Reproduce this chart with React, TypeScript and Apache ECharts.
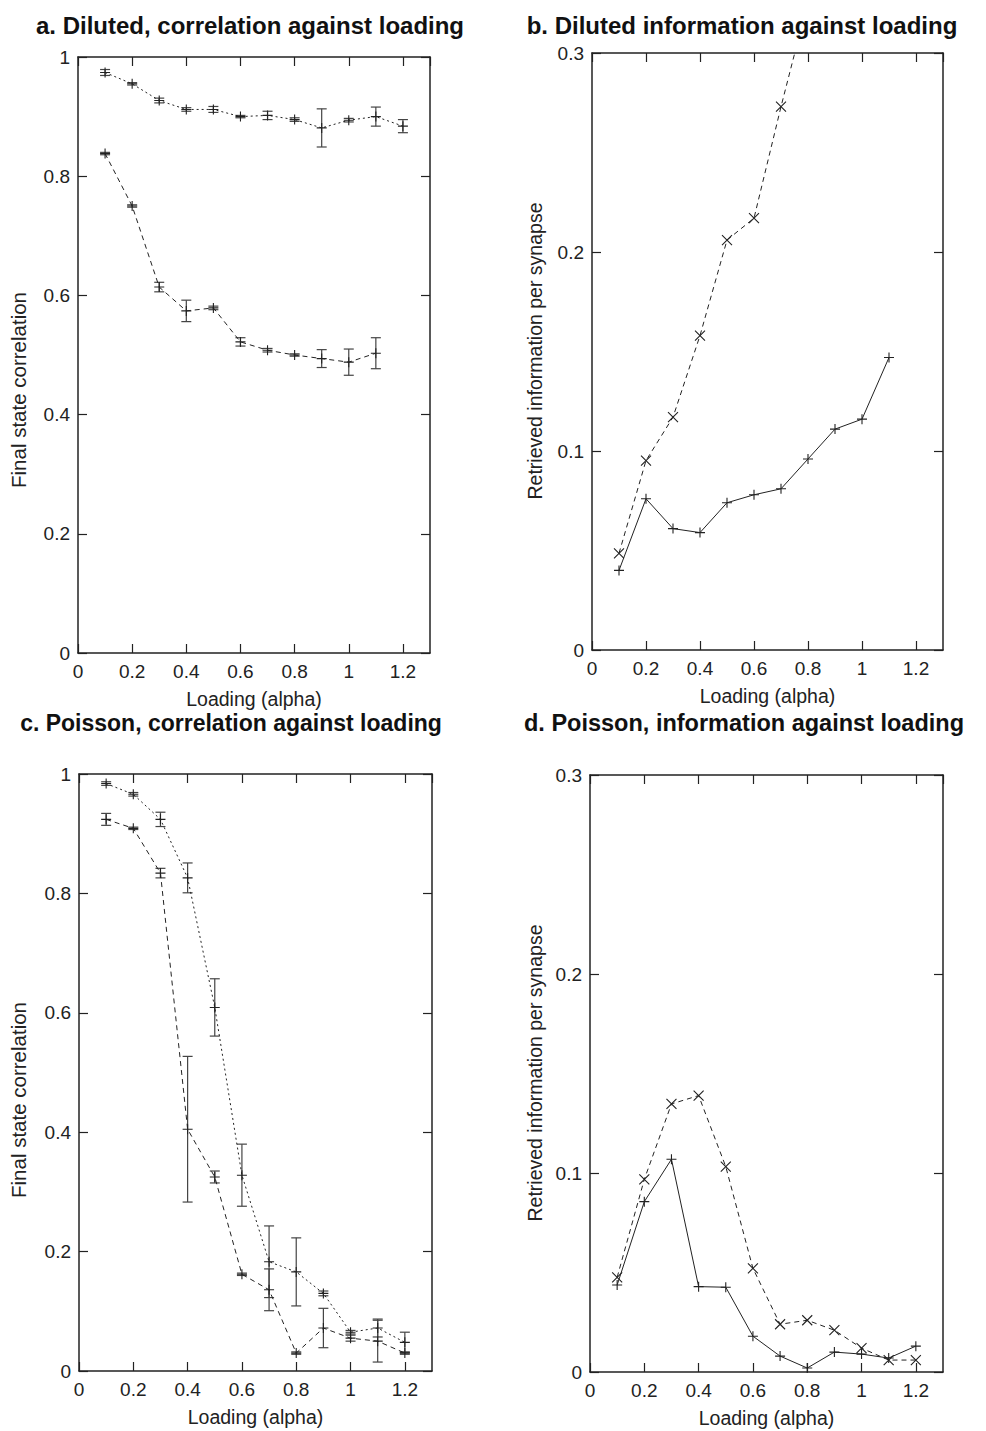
import React, { useEffect, useRef } from "react";
import * as echarts from "echarts";

const alphas = [0.1, 0.2, 0.3, 0.4, 0.5, 0.6, 0.7, 0.8, 0.9, 1.0, 1.1, 1.2];

// Panel a: Diluted, correlation
const aUpper = [0.974, 0.955, 0.927, 0.912, 0.912, 0.9, 0.902, 0.895, 0.881, 0.894, 0.9, 0.884];
const aUpperErr = [0.005, 0.002, 0.004, 0.003, 0.005, 0.002, 0.007, 0.003, 0.032, 0.003, 0.016, 0.011];
const aLower = [0.838, 0.75, 0.614, 0.574, 0.579, 0.522, 0.508, 0.5, 0.494, 0.488, 0.503];
const aLowerErr = [0.002, 0.002, 0.008, 0.018, 0.003, 0.007, 0.003, 0.002, 0.015, 0.022, 0.026];

// Panel b: Diluted, information
const bCross = [0.0486, 0.0952, 0.117, 0.158, 0.206, 0.217, 0.273, 0.326];
const bPlus = [0.04, 0.076, 0.061, 0.059, 0.074, 0.078, 0.081, 0.096, 0.111, 0.116, 0.147];

// Panel c: Poisson, correlation
const cUpper = [0.984, 0.966, 0.924, 0.826, 0.609, 0.328, 0.183, 0.166, 0.13, 0.065, 0.072, 0.048];
const cUpperErr = [0.003, 0.003, 0.012, 0.025, 0.048, 0.052, 0.06, 0.057, 0.004, 0.003, 0.015, 0.017];
const cLower = [0.924, 0.909, 0.834, 0.405, 0.325, 0.162, 0.136, 0.03, 0.072, 0.055, 0.05, 0.03];
const cLowerErr = [0.01, 0.002, 0.008, 0.122, 0.01, 0.002, 0.035, 0.002, 0.033, 0.005, 0.035, 0.002];

// Panel d: Poisson, information
const dCross = [0.0476, 0.0968, 0.1347, 0.1389, 0.1032, 0.0521, 0.024, 0.026, 0.021, 0.012, 0.006, 0.006];
const dPlus = [0.0437, 0.0856, 0.1069, 0.0429, 0.0426, 0.018, 0.008, 0.002, 0.01, 0.009, 0.007, 0.013];

const titles = [
  "a. Diluted, correlation against loading",
  "b. Diluted information against loading",
  "c. Poisson, correlation against loading",
  "d. Poisson, information against loading",
];
const xName = "Loading (alpha)";
const yNames = [
  "Final state correlation",
  "Retrieved information per synapse",
  "Final state correlation",
  "Retrieved information per synapse",
];
const yMax = [1, 0.3, 1, 0.3];
const yStep = [0.2, 0.1, 0.2, 0.1];

const FONT = "Liberation Sans, Arial, sans-serif";
const INK = "#222";

const grids = [
  { left: 78, top: 57, width: 352, height: 596 },
  { left: 592, top: 53, width: 351, height: 597 },
  { left: 79, top: 774, width: 353, height: 597 },
  { left: 590, top: 775, width: 353, height: 597 },
];
const titlePos = [
  [250, 25],
  [742, 25],
  [231, 723],
  [744, 723],
];
const titleSize = [24, 24, 23, 23.5];
const yNamePos = [
  [18, 390],
  [535, 351],
  [18, 1100],
  [535, 1073],
];
const yNameSize = [20.5, 19.5, 20.5, 19.5];

const PLUS = "path://M0,5L10,5M5,0L5,10";
const CROSS = "path://M0,0L10,10M0,10L10,0";

function pairs(vals: number[]) {
  return vals.map((v, k) => [alphas[k], v]);
}

function lineSeries(i: number, vals: number[], symbol: string, dash: any) {
  return {
    type: "line",
    xAxisIndex: 2 * i,
    yAxisIndex: 2 * i,
    data: pairs(vals),
    symbol,
    symbolSize: 10,
    showSymbol: true,
    clip: true,
    lineStyle: { color: INK, width: 1, type: dash },
    itemStyle: { color: INK, borderColor: INK, borderWidth: 1.1 },
    silent: true,
    z: 3,
  };
}

function errSeries(i: number, means: number[], errs: number[]) {
  const data = means.map((m, k) => [alphas[k], m - errs[k], m + errs[k]]);
  return {
    type: "custom",
    xAxisIndex: 2 * i,
    yAxisIndex: 2 * i,
    data,
    encode: { x: 0, y: [1, 2] },
    silent: true,
    z: 2,
    renderItem: (params: any, api: any) => {
      const x = api.value(0);
      const lo = api.coord([x, api.value(1)]);
      const hi = api.coord([x, api.value(2)]);
      const w = 5;
      const style = { stroke: "#444", lineWidth: 1.2 };
      return {
        type: "group",
        children: [
          { type: "line", shape: { x1: lo[0], y1: lo[1], x2: hi[0], y2: hi[1] }, style },
          { type: "line", shape: { x1: lo[0] - w, y1: lo[1], x2: lo[0] + w, y2: lo[1] }, style },
          { type: "line", shape: { x1: hi[0] - w, y1: hi[1], x2: hi[0] + w, y2: hi[1] }, style },
        ],
      };
    },
  };
}

function xLabel(v: number) {
  const r = Math.round(v * 10) / 10;
  if (Math.abs(r * 5 - Math.round(r * 5)) > 1e-6) return "";
  return String(r);
}
function yLabel(v: number) {
  return String(Math.round(v * 10) / 10);
}

export default function App() {
  const ref = useRef<HTMLDivElement>(null);
  useEffect(() => {
    if (!ref.current) return;
    const chart = echarts.init(ref.current, undefined, { renderer: "svg" });
    const xAxis: any[] = [];
    const yAxis: any[] = [];
    grids.forEach((g, i) => {
      const axisLine = { show: true, onZero: false, lineStyle: { color: INK, width: 1.5 } };
      const axisTick = { show: true, inside: true, length: 9, lineStyle: { color: INK, width: 1.2 } };
      xAxis.push({
        type: "value",
        gridIndex: i,
        position: "bottom",
        min: 0,
        max: 1.3,
        interval: 0.2,
        axisLine,
        axisTick,
        splitLine: { show: false },
        axisLabel: { color: INK, fontSize: 19, fontFamily: FONT, margin: 9, formatter: xLabel, showMaxLabel: false },
        name: xName,
        nameLocation: "middle",
        nameGap: 36,
        nameTextStyle: { color: INK, fontSize: 19.5, fontFamily: FONT },
      });
      xAxis.push({
        type: "value",
        gridIndex: i,
        position: "top",
        min: 0,
        max: 1.3,
        interval: 0.2,
        axisLine,
        axisTick,
        splitLine: { show: false },
        axisLabel: { show: false },
      });
      yAxis.push({
        type: "value",
        gridIndex: i,
        position: "left",
        min: 0,
        max: yMax[i],
        interval: yStep[i],
        axisLine,
        axisTick,
        splitLine: { show: false },
        axisLabel: { color: INK, fontSize: 19, fontFamily: FONT, margin: 8, formatter: yLabel },
      });
      yAxis.push({
        type: "value",
        gridIndex: i,
        position: "right",
        min: 0,
        max: yMax[i],
        interval: yStep[i],
        axisLine,
        axisTick,
        splitLine: { show: false },
        axisLabel: { show: false },
      });
    });

    const series: any[] = [
      errSeries(0, aUpper, aUpperErr),
      errSeries(0, aLower, aLowerErr),
      lineSeries(0, aUpper, PLUS, [2, 3]),
      lineSeries(0, aLower, PLUS, [5, 4]),
      lineSeries(1, bCross, CROSS, [5, 4]),
      lineSeries(1, bPlus, PLUS, "solid"),
      errSeries(2, cUpper, cUpperErr),
      errSeries(2, cLower, cLowerErr),
      lineSeries(2, cUpper, PLUS, [2, 3]),
      lineSeries(2, cLower, PLUS, [5, 4]),
      lineSeries(3, dCross, CROSS, [5, 4]),
      lineSeries(3, dPlus, PLUS, "solid"),
    ];

    const graphic: any[] = titles.map((t, i) => ({
      type: "text",
      x: titlePos[i][0],
      y: titlePos[i][1],
      style: {
        text: t,
        fill: "#111",
        font: `bold ${titleSize[i]}px ${FONT}`,
        textAlign: "center",
        textVerticalAlign: "middle",
      },
    }));
    yNames.forEach((t, i) => {
      graphic.push({
        type: "text",
        x: yNamePos[i][0],
        y: yNamePos[i][1],
        rotation: Math.PI / 2,
        style: {
          text: t,
          fill: INK,
          font: `${yNameSize[i]}px ${FONT}`,
          textAlign: "center",
          textVerticalAlign: "middle",
        },
      });
    });

    chart.setOption({
      animation: false,
      backgroundColor: "#ffffff",
      grid: grids.map((g) => ({ ...g, containLabel: false })),
      xAxis,
      yAxis,
      series,
      graphic,
    });
    return () => chart.dispose();
  }, []);
  return (
    <div
      ref={ref}
      style={{ position: "absolute", left: 0, top: 0, width: 986, height: 1431, background: "#fff" }}
    />
  );
}
